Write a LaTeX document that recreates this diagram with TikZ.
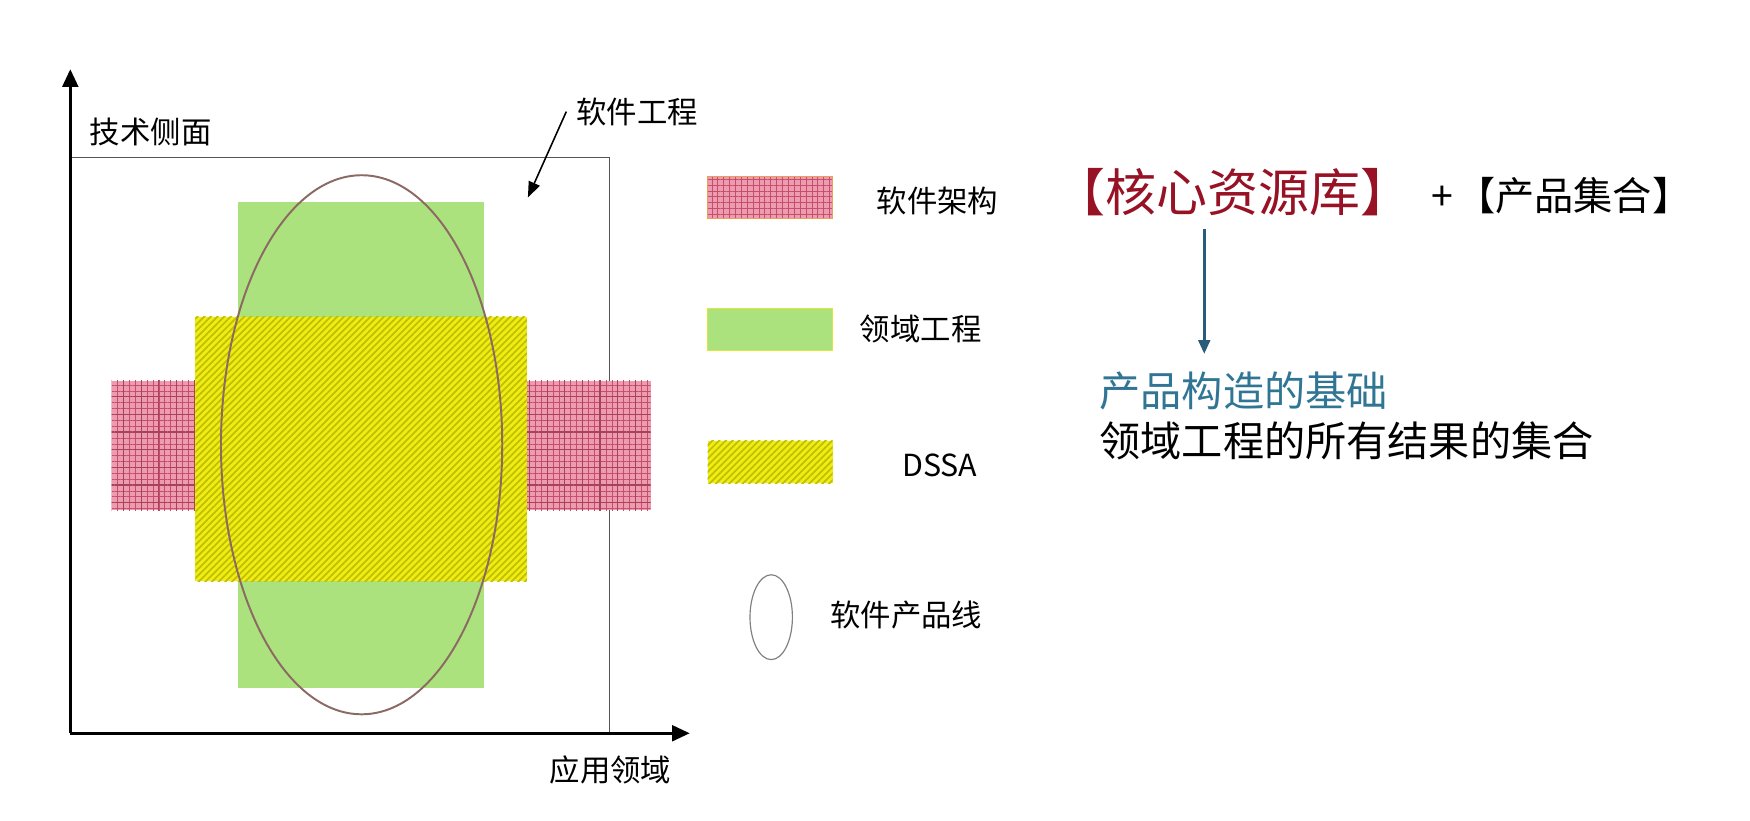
\documentclass[tikz,border=0pt]{standalone}
\usepackage{fontspec}
\setmainfont{Noto Sans CJK SC}
\usepackage{tikz}
\usetikzlibrary{arrows.meta,patterns.meta}
\definecolor{crred}{RGB}{150,18,36}
\definecolor{crteal}{RGB}{48,118,148}
\definecolor{crarrow}{RGB}{40,92,122}
\definecolor{boxgray}{RGB}{85,85,85}
\definecolor{plgray}{RGB}{140,106,100}
\definecolor{deggreen}{RGB}{172,226,126}
\definecolor{dsyellow}{RGB}{238,238,20}
\definecolor{dsstripe}{RGB}{196,190,0}
\definecolor{sapink}{RGB}{236,156,174}
\definecolor{saline}{RGB}{196,78,108}
\definecolor{saedge}{RGB}{232,160,92}

\tikzset{
  axis/.style={line width=1.5pt, -{Triangle[length=9pt,width=8pt]}},
  ptr/.style={line width=0.8pt, -{Triangle[length=8pt,width=6pt]}},
  lbl/.style={font=\fontsize{15.5}{17}\selectfont, inner sep=1pt},
  degfill/.style={fill=deggreen},
  dssafill/.style={preaction={fill=dsyellow},
    pattern={Lines[angle=45,distance=2.4pt,line width=0.9pt]}, pattern color=dsstripe},
  safill/.style={preaction={fill=sapink},
    pattern={Hatch[angle=0,distance=3pt,line width=0.3pt]}, pattern color=saline},
}

\begin{document}
\begin{tikzpicture}[x=0.02cm, y=0.02cm]
\useasboundingbox (0,0) rectangle (1568,735);
% software engineering frame
\draw[boxgray, line width=0.8pt] (63,594) rectangle (546,78);
% domain engineering
\fill[degfill] (213,554) rectangle (434,119);
% software architecture
\path[safill] (100,394) rectangle (583,278);
\path[pattern={Hatch[angle=0,distance=9pt,line width=0.6pt]}, pattern color=saline!85!black]
  (100,394) rectangle (583,278);
% DSSA
\path[dssafill] (175,451) rectangle (472,214);
% product line
\draw[plgray, line width=1pt] (324,336.5) ellipse (126 and 241.5);
% axes
\coordinate (O) at (63,78);
\coordinate (ytop) at (63,673);
\coordinate (xend) at (618,78);
\draw[axis] (O) -- (ytop);
\draw[axis] (O) -- (xend);
\node[lbl] (ylbl) at (135,617) {技术侧面};
\node[lbl] (xlbl) at (547,45) {应用领域};
\node[lbl] (swe) at (571,635) {软件工程};
\coordinate (swetip) at (473,558);
\draw[ptr] ([xshift=-4pt]swe.west) -- (swetip);

% legend
\path[safill, draw=saedge, line width=0.4pt] (634,577) rectangle (746,539);
\node[lbl] (lgsa) at (840,555) {软件架构};
\path[degfill, draw=dsyellow!70!deggreen, line width=0.4pt] (634,459) rectangle (746,421);
\node[lbl] (lgdeg) at (825,440) {领域工程};
\path[dssafill] (634,340) rectangle (746,302);
\node[lbl] (lgdssa) at (842,318) {DSSA};
\draw[gray, line width=0.6pt] (691,182) ellipse (19 and 38);
\node[lbl] (lgpl) at (812,184) {软件产品线};

% right side text
\node[crred, font=\fontsize{26}{29}\selectfont, inner sep=1pt] (core) at (1105,563) {【核心资源库】};
\node[font=\fontsize{20}{23}\selectfont, inner sep=1pt] (plus) at (1292,557) {+};
\node[font=\fontsize{20}{23}\selectfont, inner sep=1pt] (prod) at (1410,560) {【产品集合】};
\coordinate (cbot) at (1079,530);
\node[crteal, font=\fontsize{21}{24}\selectfont, anchor=west, inner sep=1pt] (base) at (983,385) {产品构造的基础};
\node[font=\fontsize{21}{24}\selectfont, anchor=west, inner sep=1pt] (allres) at (983,340) {领域工程的所有结果的集合};
\draw[crarrow, line width=1.4pt, -{Triangle[length=7pt,width=6pt]}] (cbot) -- (1079,418);
\end{tikzpicture}
\end{document}
